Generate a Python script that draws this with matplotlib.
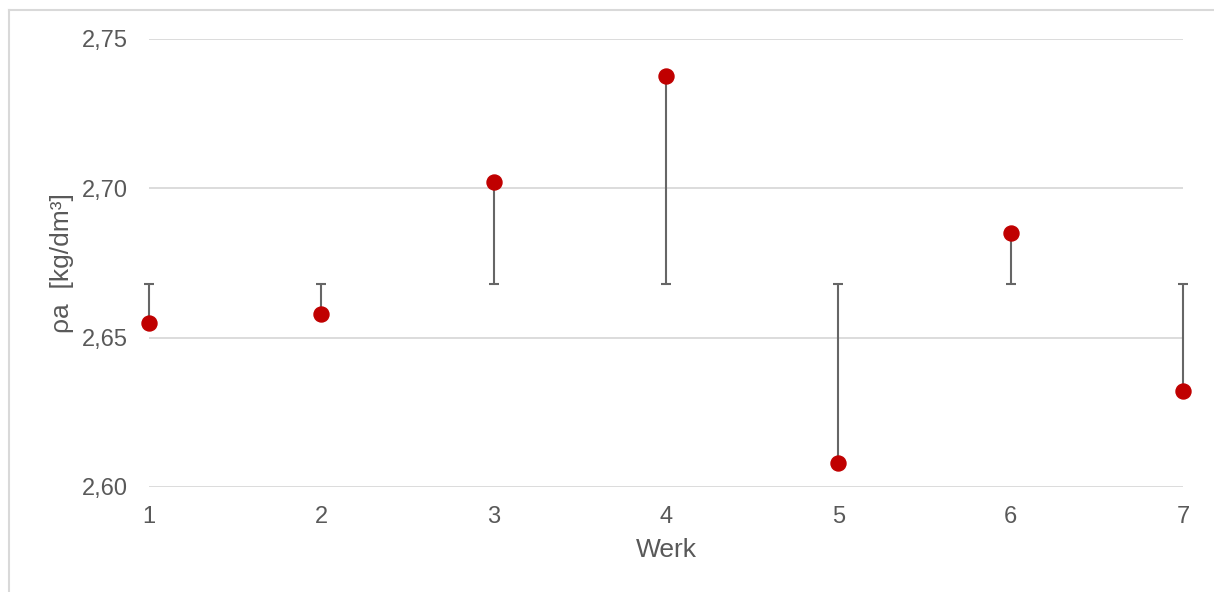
import matplotlib
matplotlib.use('Agg')
import matplotlib.pyplot as plt
from matplotlib.lines import Line2D
import numpy as np

werk = [1, 2, 3, 4, 5, 6, 7]
rho_a = [2.655, 2.658, 2.702, 2.7375, 2.608, 2.685, 2.632]
rho_ref = 2.668  # level where the error bars end
yticks = [2.60, 2.65, 2.70, 2.75]
ytick_labels = ['2,60', '2,65', '2,70', '2,75']

plt.rcParams['font.family'] = ['Liberation Sans', 'DejaVu Sans']
grey = '#595959'

fig = plt.figure(figsize=(12.14, 5.92), dpi=100)
ax = fig.add_axes([149 / 1214, 1 - 487 / 592, 1034 / 1214, 448 / 592])

vals = np.array(rho_a)
lower = np.clip(vals - rho_ref, 0, None)
upper = np.clip(rho_ref - vals, 0, None)
ax.errorbar(werk, rho_a, yerr=[lower, upper], fmt='o', color='#C00000',
            markersize=10.8, ecolor='#666666', elinewidth=1.5,
            capsize=3.3, capthick=1.5, zorder=3, clip_on=False)

ax.set_xlim(1, 7)
ax.set_ylim(2.60, 2.75)
ax.set_yticks(yticks)
ax.set_yticklabels(ytick_labels)
ax.set_xticks(werk)
ax.grid(axis='y', color='#d9d9d9', linewidth=1.3)
ax.set_axisbelow(True)
for s in ax.spines.values():
    s.set_visible(False)
ax.tick_params(axis='both', length=0, labelsize=17, colors=grey)
ax.tick_params(axis='y', pad=15)
ax.tick_params(axis='x', pad=14)

ax.set_xlabel('Werk', fontsize=19, color=grey, labelpad=7)
ax.set_ylabel('ρa  [kg/dm³]', fontsize=19, color=grey, labelpad=6)

# chart border
fig.add_artist(Line2D([9 / 1214, 9 / 1214], [0, 1 - 10 / 592], transform=fig.transFigure, color='#d9d9d9', lw=1.5))
fig.add_artist(Line2D([9 / 1214, 1], [1 - 10 / 592, 1 - 10 / 592], transform=fig.transFigure, color='#d9d9d9', lw=1.5))

fig.savefig('out.png', dpi=100)
